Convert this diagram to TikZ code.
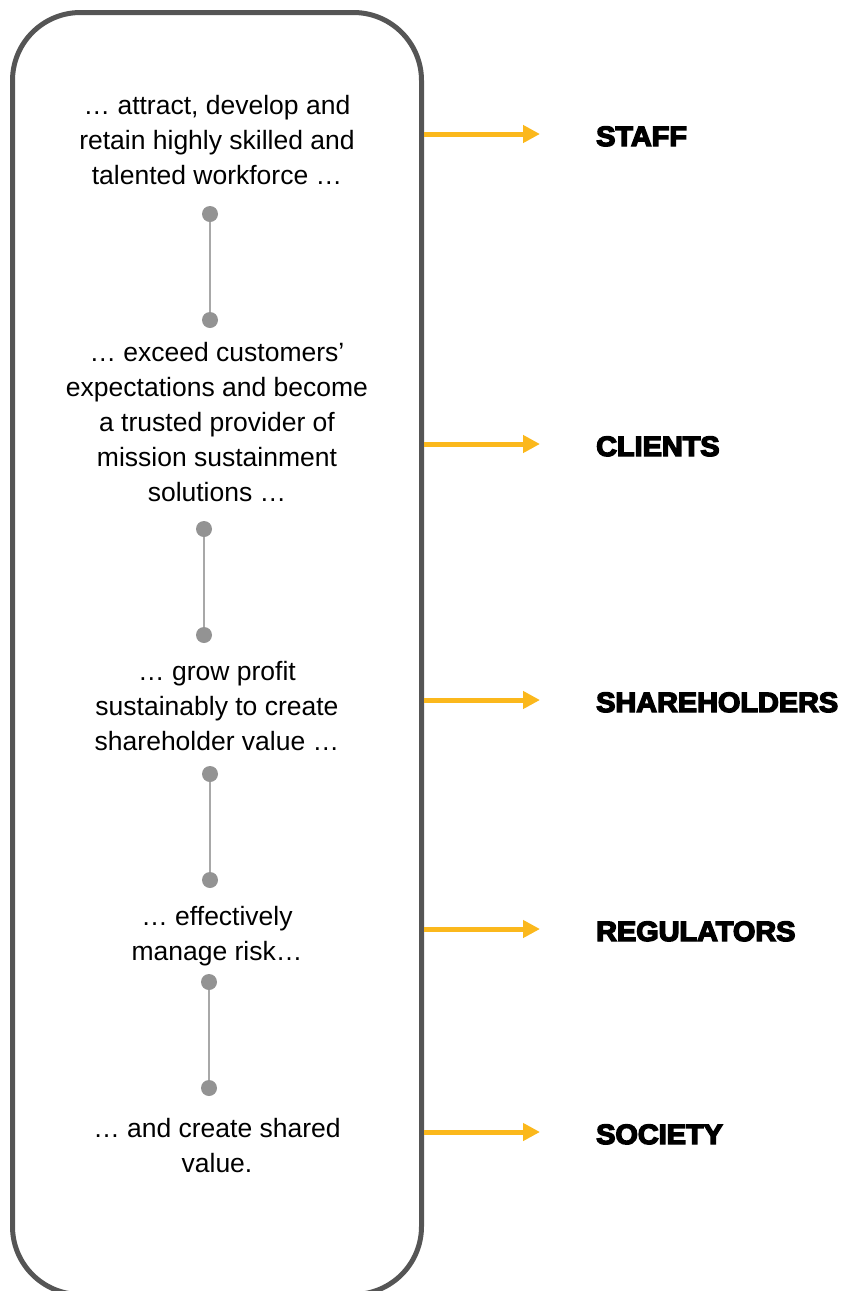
\documentclass[tikz,border=0pt]{standalone}
\usepackage{fontspec}
\setmainfont{Liberation Sans}
\newfontfamily\lblfont[BoldFeatures={FakeBold=5}]{Liberation Sans}
\usetikzlibrary{arrows.meta}
\definecolor{boxgray}{HTML}{555555}
\definecolor{dotgray}{HTML}{939393}
\definecolor{linegray}{HTML}{A8A8A8}
\definecolor{arrowor}{HTML}{FBB81C}
\begin{document}
\begin{tikzpicture}[x=1pt,y=-1pt,
  txt/.style={align=center, anchor=base, inner sep=0pt, font=\fontsize{26.5}{35}\selectfont},
  lbl/.style={anchor=base west, inner sep=0pt, font=\fontsize{28}{30}\lblfont\bfseries, xscale=1.03},
  dot/.style={circle, fill=dotgray, minimum size=16pt, inner sep=0pt},
  link/.style={draw=linegray, line width=1.5pt},
  arr/.style={draw=arrowor, line width=5pt, -{Triangle[length=17pt,width=17pt]}}]
\useasboundingbox (0,0) rectangle (844,1291);
\clip (0,0) rectangle (844,1291);
\node[draw=boxgray, line width=5pt, rounded corners=68pt, minimum width=409pt, minimum height=1282pt, inner sep=0pt] (box) at (217,653.5) {};
% texts (base anchor = last line baseline)
\node[txt] (t1) at (217,184) {… attract, develop and\\retain highly skilled and\\talented workforce …};
\node[txt] (t2) at (217,501) {… exceed customers’\\expectations and become\\a trusted provider of\\mission sustainment\\solutions …};
\node[txt] (t3) at (217,750) {… grow profit\\sustainably to create\\shareholder value …};
\node[txt] (t4) at (217,960) {… effectively\\manage risk…};
\node[txt] (t5) at (217,1172) {… and create shared\\value.};
% dots
\node[dot] (d1a) at (210,214) {};
\node[dot] (d1b) at (210,320) {};
\node[dot] (d2a) at (204,529) {};
\node[dot] (d2b) at (204,635) {};
\node[dot] (d3a) at (210,774) {};
\node[dot] (d3b) at (210,880) {};
\node[dot] (d4a) at (209,982) {};
\node[dot] (d4b) at (209,1088) {};
\draw[link] (d1a) -- (d1b);
\draw[link] (d2a) -- (d2b);
\draw[link] (d3a) -- (d3b);
\draw[link] (d4a) -- (d4b);
% labels
\node[lbl] (l1) at (596,146) {STAFF};
\node[lbl] (l2) at (596,456) {CLIENTS};
\node[lbl] (l3) at (596,712) {SHAREHOLDERS};
\node[lbl] (l4) at (596,941) {REGULATORS};
\node[lbl] (l5) at (596,1144) {SOCIETY};
\coordinate (a1) at (540,134);
\coordinate (a2) at (540,444);
\coordinate (a3) at (540,700);
\coordinate (a4) at (540,929);
\coordinate (a5) at (540,1132);
\foreach \i in {1,...,5} \draw[arr] (box.east |- a\i) -- (a\i);
\end{tikzpicture}
\end{document}
